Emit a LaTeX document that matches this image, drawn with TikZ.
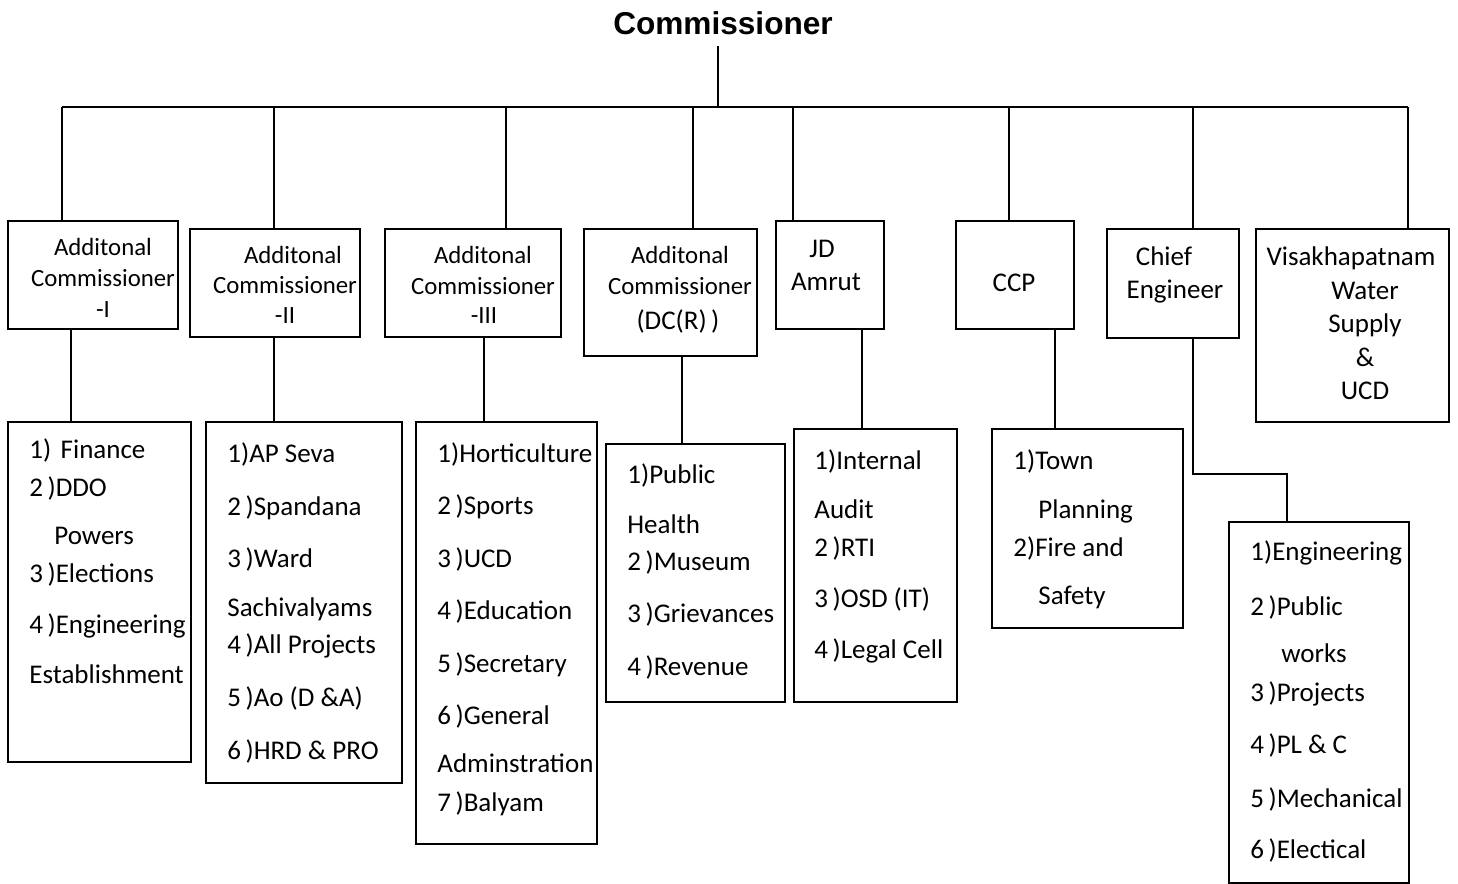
\documentclass[tikz,border=0pt]{standalone}
\usepackage{fontspec}
\setmainfont{Carlito}
\newfontfamily\titlefont{Liberation Sans}
\usepackage{tikz}

\tikzset{
  box/.style={draw, line width=1.2pt, inner sep=0, outer sep=0, anchor=north west},
  link/.style={line width=1pt},
  item/.style={anchor=base west, inner sep=0, font=\fontsize{13.5}{16}\selectfont},
  head/.style={anchor=base, inner sep=0, font=\fontsize{12.4}{15}\selectfont},
  headbig/.style={anchor=base, inner sep=0, font=\fontsize{13.5}{16}\selectfont}
}

\begin{document}
\begin{tikzpicture}[x=0.5pt, y=-0.5pt]
    \useasboundingbox (0,0) rectangle (1458,884);

    % Title
    \node[font=\titlefont\bfseries\fontsize{15.8}{19}\selectfont, anchor=base, inner sep=0] (comm) at (723,34) {Commissioner};

    % Boxes (name / top left / bottom right)
    \foreach \n/\xa/\ya/\xb/\yb in {ac1/8/221/178/329, ac2/190/229/360/337, ac3/385/229/561/337,
        ac4/584/229/757/356, jd/776/221/884/329, ccp/956/221/1074/329, ce/1107/229/1239/338,
        vw/1256/229/1449/422, l1/8/422/191/762, l2/206/422/402/783, l3/416/422/597/844,
        l4/606/444/785/702, l5/794/429/957/702, l6/992/429/1183/628, l7/1229/522/1409/883}
        \node[box, minimum width={(\xb-\xa)*0.5pt}, minimum height={(\yb-\ya)*0.5pt}] (\n) at (\xa,\ya) {};

    % Commissioner to the bus
    \coordinate (hub) at (718,107);
    \draw[link, shorten >=5.5pt] (hub) -- (hub |- comm.south);

    % Bus and drops to the heads
    \foreach \n/\x [count=\i] in {ac1/62, ac2/274, ac3/506, ac4/693, jd/793, ccp/1009, ce/1193, vw/1408} {
        \coordinate (t\i) at (\x,107);
        \draw[link] (t\i) -- (t\i |- \n.north);
    }
    \draw[link] (t1) -- (t8);

    % Heads to their lists
    \foreach \a/\b/\x in {ac1/l1/71, ac2/l2/274, ac3/l3/484, ac4/l4/682, jd/l5/862, ccp/l6/1055} {
        \coordinate (d\b) at (\x,0);
        \draw[link] (d\b |- \a.south) -- (d\b |- \b.north);
    }
    \coordinate (elbow) at (1287,474);
    \draw[link] (t7 |- ce.south) |- (elbow) -- (elbow |- l7.north);

    % Head texts
    \foreach \x/\y/\t [count=\i] in {103/255/Additonal, 103/286/Commissioner, 103/317/-I,
        293/263/Additonal, 285/293/Commissioner, 285/323/-II,
        483/263/Additonal, 483/294/Commissioner, 484/323/-III,
        680/263/Additonal, 680/294/Commissioner, 678/329/{\fontsize{13.5}{16}\selectfont(DC(R)\,)}}
        \node[head] (h\i) at (\x,\y) {\t};
    \foreach \x/\y/\t [count=\i] in {822/257/JD, 826/290/Amrut, 1014/291/CCP,
        1164/265/Chief, 1175/298/Engineer,
        1351/265/Visakhapatnam, 1365/299/Water, 1365/332/Supply, 1365/366/\&, 1365/399/UCD}
        \node[headbig] (hb\i) at (\x,\y) {\t};

    % List texts
    \foreach \x/\y/\t [count=\i] in {29/458/{1)\hspace{0.35em}Finance}, 29/496/{2\,)DDO}, 54/544/Powers,
        29/582/{3\,)Elections}, 29/633/{4\,)Engineering}, 29/683/Establishment}
        \node[item] (la\i) at (\x,\y) {\t};
    \foreach \x/\y/\t [count=\i] in {227/462/{1)AP Seva}, 227/515/{2\,)Spandana}, 227/567/{3\,)Ward},
        227/616/Sachivalyams, 227/653/{4\,)All Projects}, 227/706/{5\,)Ao (D \&A)}, 227/759/{6\,)HRD \& PRO}}
        \node[item] (lb\i) at (\x,\y) {\t};
    \foreach \x/\y/\t [count=\i] in {437/462/{1)Horticulture}, 437/514/{2\,)Sports}, 437/567/{3\,)UCD},
        437/619/{4\,)Education}, 437/672/{5\,)Secretary}, 437/724/{6\,)General},
        437/772/Adminstration, 437/811/{7\,)Balyam}}
        \node[item] (lc\i) at (\x,\y) {\t};
    \foreach \x/\y/\t [count=\i] in {627/483/{1)Public}, 627/533/Health, 627/570/{2\,)Museum},
        627/622/{3\,)Grievances}, 627/675/{4\,)Revenue}}
        \node[item] (ld\i) at (\x,\y) {\t};
    \foreach \x/\y/\t [count=\i] in {814/469/{1)Internal}, 814/518/Audit, 814/556/{2\,)RTI},
        814/607/{3\,)OSD (IT)}, 814/658/{4\,)Legal Cell}}
        \node[item] (le\i) at (\x,\y) {\t};
    \foreach \x/\y/\t [count=\i] in {1013/469/{1)Town}, 1038/518/Planning, 1013/556/{2)Fire and}, 1038/604/Safety}
        \node[item] (lf\i) at (\x,\y) {\t};
    \foreach \x/\y/\t [count=\i] in {1250/560/{1)Engineering}, 1250/615/{2\,)Public}, 1281/662/works,
        1250/701/{3\,)Projects}, 1250/753/{4\,)PL \& C}, 1250/807/{5\,)Mechanical}, 1250/858/{6\,)Electical}}
        \node[item] (lg\i) at (\x,\y) {\t};
\end{tikzpicture}
\end{document}
